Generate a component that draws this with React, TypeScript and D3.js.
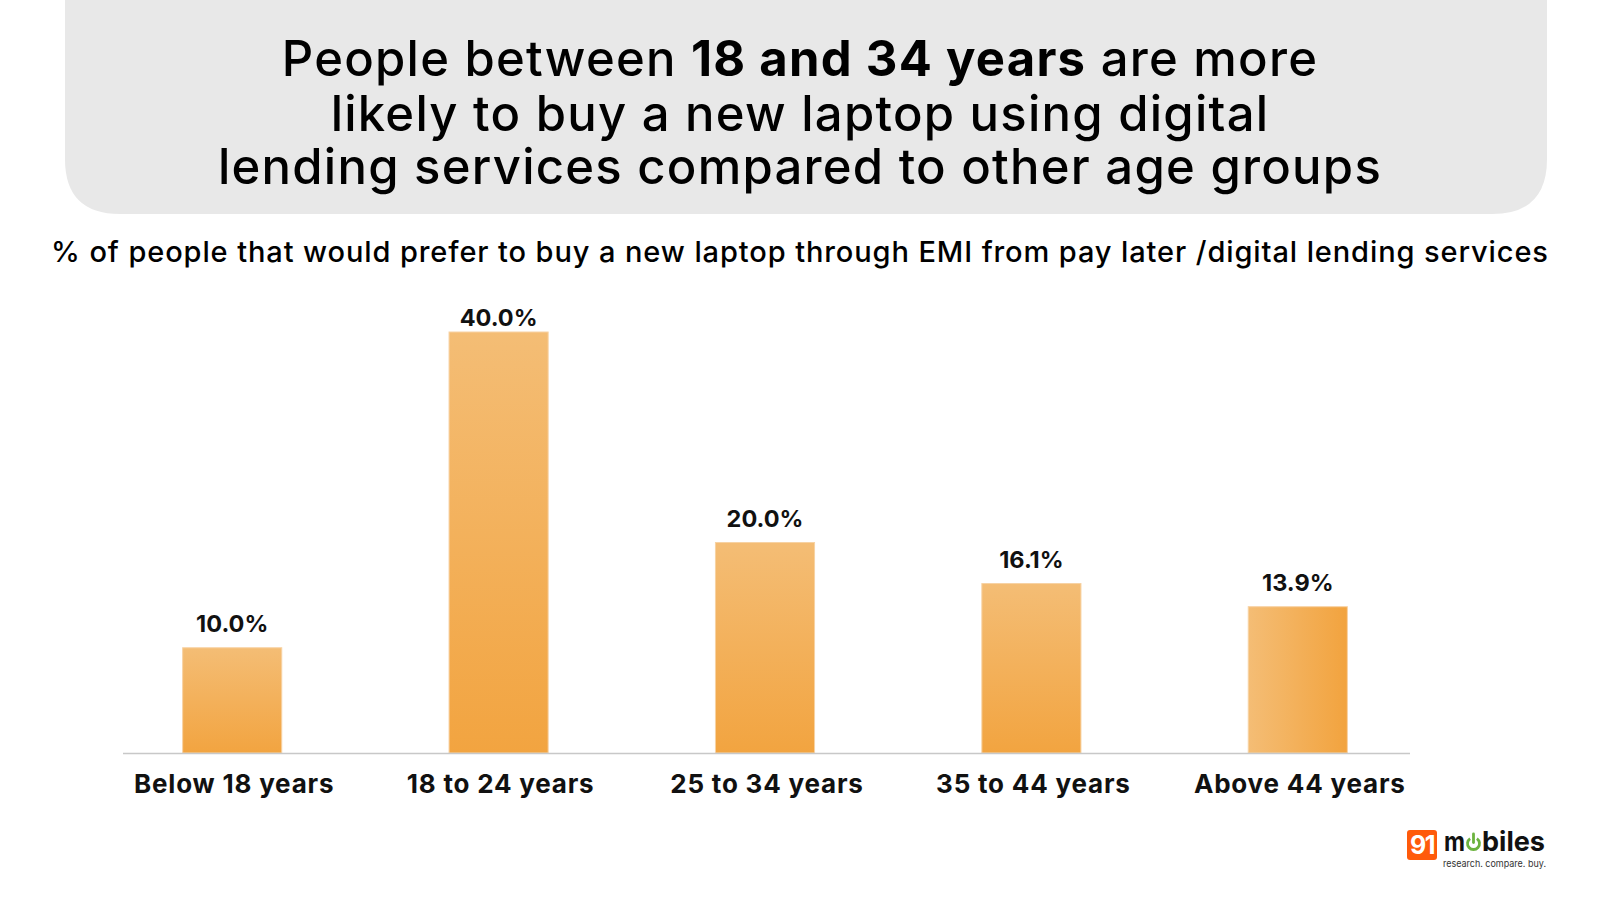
import React, { useEffect, useRef } from 'react';
import * as d3 from 'd3';

const categories = ['Below 18 years', '18 to 24 years', '25 to 34 years', '35 to 44 years', 'Above 44 years'];
const values = [10.0, 40.0, 20.0, 16.1, 13.9];

const titleLines = [
  [{ t: 'People between ', b: false }, { t: '18 and 34 years', b: true }, { t: ' are more', b: false }],
  [{ t: 'likely to buy a new laptop using digital', b: false }],
  [{ t: 'lending services compared to other age groups', b: false }],
];
const subtitle = '% of people that would prefer to buy a new laptop through EMI from pay later /digital lending services';

const FONT = 'Inter, "Noto Sans", sans-serif';

export default function App() {
  const ref = useRef<SVGSVGElement | null>(null);

  useEffect(() => {
    const width = 1600;
    const height = 900;
    const baseline = 753;

    const svg = d3.select(ref.current);
    svg.selectAll('*').remove();
    svg.attr('width', width).attr('height', height);

    svg.append('rect').attr('width', width).attr('height', height).attr('fill', '#ffffff');

    const defs = svg.append('defs');
    const vGrad = defs.append('linearGradient').attr('id', 'barV')
      .attr('x1', 0).attr('y1', 0).attr('x2', 0).attr('y2', 1);
    vGrad.append('stop').attr('offset', '0%').attr('stop-color', '#f4bd75');
    vGrad.append('stop').attr('offset', '100%').attr('stop-color', '#f2a440');
    const hGrad = defs.append('linearGradient').attr('id', 'barH')
      .attr('x1', 0).attr('y1', 0).attr('x2', 1).attr('y2', 0);
    hGrad.append('stop').attr('offset', '0%').attr('stop-color', '#f4bd75');
    hGrad.append('stop').attr('offset', '100%').attr('stop-color', '#f2a33e');

    // title box, rounded at the bottom only
    const bx0 = 65, bx1 = 1547, by1 = 214, r = 55;
    svg.append('path')
      .attr('d', `M${bx0},-10 L${bx1},-10 L${bx1},${by1 - r} Q${bx1},${by1} ${bx1 - r},${by1} L${bx0 + r},${by1} Q${bx0},${by1} ${bx0},${by1 - r} Z`)
      .attr('fill', '#e8e8e8');

    const titleY = [76, 131, 184];
    titleLines.forEach((line, i) => {
      const t = svg.append('text')
        .attr('x', 800).attr('y', titleY[i])
        .attr('text-anchor', 'middle')
        .attr('font-family', FONT)
        .attr('font-size', 49)
        .attr('letter-spacing', 1.25)
        .attr('fill', '#000');
      line.forEach(seg => {
        t.append('tspan').attr('font-weight', seg.b ? 700 : 500).text(seg.t);
      });
    });

    svg.append('text')
      .attr('x', 800).attr('y', 262)
      .attr('text-anchor', 'middle')
      .attr('font-family', FONT)
      .attr('font-size', 29)
      .attr('letter-spacing', 0.9)
      .attr('font-weight', 500)
      .attr('fill', '#000')
      .text(subtitle);

    const x = d3.scaleBand().domain(categories).range([99, 1431]).paddingInner(0.628).paddingOuter(0.314);
    const y = d3.scaleLinear().domain([0, 40]).range([baseline, 332]);

    svg.append('g').selectAll('rect').data(values).join('rect')
      .attr('x', (d, i) => x(categories[i])!)
      .attr('y', d => y(d))
      .attr('width', x.bandwidth())
      .attr('height', d => baseline - y(d))
      .attr('fill', (d, i) => i === values.length - 1 ? 'url(#barH)' : 'url(#barV)')
      .attr('stroke', '#f7d2a3')
      .attr('stroke-width', 1);

    svg.append('line')
      .attr('x1', 123).attr('x2', 1410)
      .attr('y1', baseline + 0.5).attr('y2', baseline + 0.5)
      .attr('stroke', '#c8c8c8').attr('stroke-width', 1.5);

    // value labels sit above the bar, but never above the plot top
    svg.append('g').selectAll('text').data(values).join('text')
      .attr('x', (d, i) => x(categories[i])! + x.bandwidth() / 2)
      .attr('y', d => Math.max(y(d) - 16, 326))
      .attr('text-anchor', 'middle')
      .attr('font-family', FONT)
      .attr('font-size', 23.5)
      .attr('font-weight', 700)
      .attr('fill', '#111')
      .text(d => d.toFixed(1) + '%');

    svg.append('g').selectAll('text').data(categories).join('text')
      .attr('x', d => x(d)! + x.bandwidth() / 2 + 2)
      .attr('y', 793)
      .attr('text-anchor', 'middle')
      .attr('font-family', FONT)
      .attr('font-size', 26)
      .attr('letter-spacing', 0.8)
      .attr('font-weight', 700)
      .attr('fill', '#111')
      .text(d => d);

    // 91mobiles logo
    const logo = svg.append('g');
    logo.append('rect').attr('x', 1407).attr('y', 830).attr('width', 30).attr('height', 30)
      .attr('rx', 3).attr('fill', '#ff5a0a');
    logo.append('text').attr('x', 1422).attr('y', 854).attr('text-anchor', 'middle')
      .attr('font-family', FONT).attr('font-size', 25).attr('font-weight', 700)
      .attr('fill', '#fff').attr('letter-spacing', -1.5).text('91');
    logo.append('text').attr('x', 1444).attr('y', 851)
      .attr('font-family', FONT).attr('font-size', 27).attr('font-weight', 700)
      .attr('textLength', 21).attr('lengthAdjust', 'spacingAndGlyphs')
      .attr('fill', '#111').text('m');
    const pcx = 1473.5, pcy = 843.5, pr = 6;
    logo.append('path')
      .attr('d', d3.arc()({ innerRadius: pr - 1.4, outerRadius: pr + 1.4, startAngle: 0.6, endAngle: 2 * Math.PI - 0.6 }) as string)
      .attr('transform', `translate(${pcx},${pcy})`)
      .attr('fill', '#6cb33f');
    logo.append('line').attr('x1', pcx).attr('x2', pcx).attr('y1', pcy - 9.5).attr('y2', pcy - 1)
      .attr('stroke', '#6cb33f').attr('stroke-width', 2.8).attr('stroke-linecap', 'round');
    logo.append('text').attr('x', 1482).attr('y', 851)
      .attr('font-family', FONT).attr('font-size', 27).attr('font-weight', 700)
      .attr('textLength', 63).attr('lengthAdjust', 'spacingAndGlyphs')
      .attr('fill', '#111').text('biles');
    logo.append('text').attr('x', 1443).attr('y', 867)
      .attr('font-family', FONT).attr('font-size', 9.5)
      .attr('textLength', 103).attr('lengthAdjust', 'spacingAndGlyphs')
      .attr('fill', '#333').text('research. compare. buy.');
  }, []);

  return (
    <div style={{ position: 'absolute', left: 0, top: 0 }}>
      <svg ref={ref} style={{ display: 'block' }}></svg>
    </div>
  );
}
